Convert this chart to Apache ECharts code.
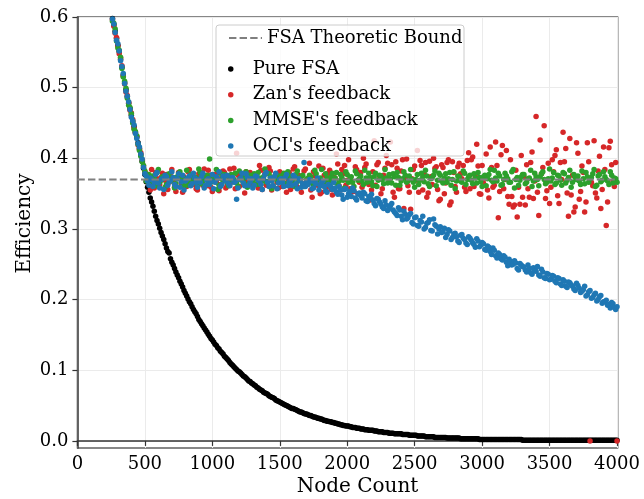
<!DOCTYPE html>
<html>
<head>
<meta charset="utf-8">
<script src="https://cdn.jsdelivr.net/npm/echarts@6/dist/echarts.min.js"></script>
<style>
html,body{margin:0;padding:0;background:#fff;}
#chart{width:644px;height:499px;}
</style>
</head>
<body>
<div id="chart"></div>
<script>
// Node counts, even tens (260 ... 4000)
const nodeCountsA = [
  260,280,300,320,340,360,380,400,420,440,460,480,500,
  520,540,560,580,600,620,640,660,680,700,
  720,740,760,780,800,820,840,860,880,900,
  920,940,960,980,1000,1020,1040,1060,1080,1100,
  1120,1140,1160,1180,1200,1220,1240,1260,1280,1300,
  1320,1340,1360,1380,1400,1420,1440,1460,1480,1500,
  1520,1540,1560,1580,1600,1620,1640,1660,1680,1700,
  1720,1740,1760,1780,1800,1820,1840,1860,1880,1900,
  1920,1940,1960,1980,2000,2020,2040,2060,2080,2100,
  2120,2140,2160,2180,2200,2220,2240,2260,2280,2300,
  2320,2340,2360,2380,2400,2420,2440,2460,2480,2500,
  2520,2540,2560,2580,2600,2620,2640,2660,2680,2700,
  2720,2740,2760,2780,2800,2820,2840,2860,2880,2900,
  2920,2940,2960,2980,3000,3020,3040,3060,3080,3100,
  3120,3140,3160,3180,3200,3220,3240,3260,3280,3300,
  3320,3340,3360,3380,3400,3420,3440,3460,3480,3500,
  3520,3540,3560,3580,3600,3620,3640,3660,3680,3700,
  3720,3740,3760,3780,3800,3820,3840,3860,3880,3900,
  3920,3940,3960,3980,4000
];
// Node counts, odd tens (270 ... 3990)
const nodeCountsB = [
  270,290,310,330,350,370,390,410,430,450,470,490,
  510,530,550,570,590,610,630,650,670,690,
  710,730,750,770,790,810,830,850,870,890,
  910,930,950,970,990,1010,1030,1050,1070,1090,
  1110,1130,1150,1170,1190,1210,1230,1250,1270,1290,
  1310,1330,1350,1370,1390,1410,1430,1450,1470,1490,
  1510,1530,1550,1570,1590,1610,1630,1650,1670,1690,
  1710,1730,1750,1770,1790,1810,1830,1850,1870,1890,
  1910,1930,1950,1970,1990,2010,2030,2050,2070,2090,
  2110,2130,2150,2170,2190,2210,2230,2250,2270,2290,
  2310,2330,2350,2370,2390,2410,2430,2450,2470,2490,
  2510,2530,2550,2570,2590,2610,2630,2650,2670,2690,
  2710,2730,2750,2770,2790,2810,2830,2850,2870,2890,
  2910,2930,2950,2970,2990,3010,3030,3050,3070,3090,
  3110,3130,3150,3170,3190,3210,3230,3250,3270,3290,
  3310,3330,3350,3370,3390,3410,3430,3450,3470,3490,
  3510,3530,3550,3570,3590,3610,3630,3650,3670,3690,
  3710,3730,3750,3770,3790,3810,3830,3850,3870,3890,
  3910,3930,3950,3970,3990
];

const pureFSA_A = [
  0.598,0.580,0.560,0.540,0.518,0.497,0.478,0.461,0.445,0.430,0.414,0.396,0.377,
  0.359,0.344,0.332,0.318,0.307,0.295,0.285,0.273,0.266,0.253,
  0.244,0.235,0.226,0.218,0.209,0.201,0.194,0.186,0.180,0.172,
  0.166,0.160,0.154,0.148,0.143,0.137,0.132,0.127,0.123,0.118,
  0.114,0.109,0.105,0.101,0.098,0.094,0.091,0.087,0.084,0.081,
  0.078,0.075,0.072,0.069,0.067,0.064,0.062,0.060,0.057,0.055,
  0.053,0.051,0.049,0.047,0.046,0.044,0.042,0.041,0.039,0.038,
  0.036,0.035,0.034,0.032,0.031,0.030,0.029,0.028,0.027,0.026,
  0.025,0.024,0.023,0.022,0.021,0.020,0.019,0.019,0.018,0.017,
  0.017,0.016,0.015,0.015,0.014,0.014,0.013,0.013,0.012,0.012,
  0.011,0.011,0.010,0.010,0.010,0.009,0.009,0.008,0.008,0.008,
  0.007,0.007,0.007,0.006,0.006,0.006,0.006,0.005,0.005,0.005,
  0.005,0.004,0.004,0.004,0.004,0.004,0.003,0.003,0.003,0.003,
  0.003,0.003,0.003,0.002,0.002,0.002,0.002,0.002,0.002,0.002,
  0.002,0.002,0.002,0.002,0.002,0.002,0.002,0.002,0.002,0.001,
  0.001,0.001,0.001,0.001,0.001,0.001,0.001,0.001,0.001,0.001,
  0.001,0.001,0.001,0.001,0.001,0.001,0.001,0.001,0.001,0.001,
  0.001,0.001,0.001,0.001,0.001,0.001,0.001,0.001,0.001,0.001,
  0.001,0.001,0.001,0.001,0.001
];
const pureFSA_B = [
  0.589,0.570,0.551,0.529,0.507,0.487,0.470,0.452,0.437,0.422,0.405,0.386,
  0.367,0.352,0.338,0.325,0.312,0.301,0.290,0.279,0.268,0.258,
  0.249,0.239,0.231,0.222,0.213,0.205,0.197,0.190,0.183,0.176,
  0.169,0.163,0.157,0.151,0.145,0.140,0.135,0.130,0.125,0.120,
  0.116,0.111,0.107,0.103,0.099,0.096,0.092,0.089,0.085,0.082,
  0.079,0.076,0.073,0.071,0.068,0.066,0.063,0.061,0.058,0.056,
  0.054,0.052,0.050,0.048,0.046,0.045,0.043,0.041,0.040,0.038,
  0.037,0.036,0.034,0.033,0.032,0.031,0.029,0.028,0.027,0.026,
  0.025,0.024,0.023,0.022,0.021,0.021,0.020,0.019,0.018,0.018,
  0.017,0.016,0.016,0.015,0.015,0.014,0.013,0.013,0.012,0.012,
  0.011,0.011,0.010,0.010,0.010,0.009,0.009,0.009,0.008,0.008,
  0.008,0.007,0.007,0.007,0.006,0.006,0.006,0.005,0.005,0.005,
  0.005,0.005,0.004,0.004,0.004,0.004,0.004,0.003,0.003,0.003,
  0.003,0.003,0.003,0.003,0.002,0.002,0.002,0.002,0.002,0.002,
  0.002,0.002,0.002,0.002,0.002,0.002,0.002,0.002,0.002,0.002,
  0.001,0.001,0.001,0.001,0.001,0.001,0.001,0.001,0.001,0.001,
  0.001,0.001,0.001,0.001,0.001,0.001,0.001,0.001,0.001,0.001,
  0.001,0.001,0.001,0.001,0.001,0.001,0.001,0.001,0.001,0.001,
  0.001,0.001,0.001,0.001,0.001
];

const zanFeedback_A = [
  0.596,0.577,0.559,0.542,0.516,0.494,0.479,0.464,0.443,0.431,0.413,0.398,0.381,
  0.374,0.355,0.369,0.380,0.362,0.373,0.350,0.377,0.366,0.384,
  0.359,0.371,0.376,0.352,0.368,0.381,0.364,0.372,0.357,0.378,
  0.367,0.385,0.361,0.374,0.353,0.369,0.379,0.363,0.382,0.358,
  0.372,0.366,0.386,0.407,0.360,0.375,0.351,0.370,0.380,0.364,
  0.377,0.358,0.383,0.369,0.362,0.387,0.355,0.374,0.366,0.381,
  0.360,0.378,0.371,0.356,0.385,0.363,0.376,0.352,0.382,0.368,
  0.393,0.345,0.375,0.362,0.350,0.386,0.367,0.379,0.356,0.373,
  0.406,0.361,0.384,0.390,0.369,0.357,0.353,0.388,0.350,0.380,
  0.400,0.392,0.363,0.355,0.425,0.391,0.375,0.357,0.386,0.393,
  0.423,0.352,0.395,0.357,0.382,0.329,0.399,0.352,0.371,0.389,
  0.411,0.397,0.355,0.394,0.351,0.374,0.400,0.388,0.340,0.391,
  0.350,0.394,0.334,0.395,0.360,0.388,0.378,0.390,0.353,0.408,
  0.398,0.360,0.420,0.350,0.390,0.372,0.355,0.416,0.359,0.423,
  0.316,0.405,0.357,0.411,0.335,0.346,0.334,0.317,0.335,0.345,
  0.334,0.357,0.394,0.343,0.459,0.319,0.378,0.446,0.354,0.336,
  0.398,0.404,0.347,0.394,0.437,0.414,0.318,0.348,0.324,0.422,
  0.342,0.389,0.324,0.422,0.000,0.361,0.351,0.382,0.329,0.416,
  0.305,0.415,0.391,0.360,0.000
];
const zanFeedback_B = [
  0.587,0.571,0.548,0.531,0.505,0.489,0.468,0.455,0.436,0.419,0.408,0.389,
  0.378,0.366,0.384,0.358,0.371,0.363,0.379,0.369,0.356,0.375,
  0.368,0.353,0.380,0.365,0.374,0.360,0.384,0.370,0.363,0.355,
  0.376,0.362,0.371,0.383,0.359,0.377,0.366,0.354,0.373,0.380,
  0.361,0.385,0.368,0.357,0.376,0.370,0.363,0.381,0.366,0.374,
  0.364,0.372,0.390,0.356,0.378,0.367,0.382,0.360,0.373,0.358,
  0.375,0.365,0.352,0.380,0.370,0.388,0.359,0.373,0.364,0.385,
  0.370,0.355,0.381,0.364,0.389,0.352,0.376,0.360,0.383,0.348,
  0.372,0.392,0.355,0.378,0.362,0.398,0.367,0.353,0.384,0.366,
  0.359,0.387,0.370,0.341,0.381,0.362,0.394,0.350,0.376,0.404,
  0.366,0.391,0.345,0.386,0.357,0.398,0.372,0.361,0.328,0.384,
  0.369,0.352,0.390,0.378,0.345,0.396,0.363,0.386,0.356,0.342,
  0.387,0.365,0.398,0.338,0.380,0.352,0.393,0.371,0.359,0.397,
  0.357,0.402,0.374,0.389,0.349,0.365,0.406,0.344,0.387,0.362,
  0.390,0.353,0.418,0.370,0.346,0.398,0.331,0.383,0.359,0.404,
  0.374,0.391,0.345,0.409,0.368,0.352,0.426,0.387,0.343,0.393,
  0.359,0.381,0.412,0.336,0.370,0.395,0.351,0.428,0.376,0.331,
  0.407,0.353,0.380,0.338,0.395,0.366,0.425,0.344,0.403,0.356,
  0.384,0.338,0.424,0.368,0.394
];

const mmseFeedback_A = [
  0.594,0.583,0.556,0.543,0.515,0.499,0.475,0.463,0.441,0.432,0.411,0.395,0.382,
  0.372,0.366,0.375,0.361,0.384,0.369,0.372,0.363,0.378,0.370,
  0.358,0.374,0.381,0.366,0.371,0.362,0.377,0.369,0.373,0.385,
  0.364,0.370,0.376,0.399,0.367,0.372,0.356,0.379,0.368,0.374,
  0.361,0.377,0.370,0.365,0.382,0.369,0.373,0.359,0.376,0.368,
  0.371,0.380,0.363,0.374,0.367,0.378,0.357,0.372,0.369,0.375,
  0.366,0.373,0.381,0.362,0.370,0.377,0.368,0.374,0.360,0.371,
  0.376,0.365,0.383,0.369,0.372,0.361,0.378,0.370,0.374,0.366,
  0.380,0.368,0.373,0.358,0.377,0.371,0.366,0.382,0.369,0.375,
  0.363,0.372,0.379,0.367,0.374,0.360,0.376,0.370,0.384,0.365,
  0.371,0.378,0.362,0.373,0.368,0.381,0.366,0.375,0.370,0.359,
  0.377,0.369,0.374,0.383,0.364,0.371,0.376,0.361,0.379,0.368,
  0.372,0.366,0.380,0.370,0.357,0.375,0.368,0.382,0.363,0.374,
  0.369,0.378,0.365,0.373,0.360,0.376,0.371,0.384,0.367,0.372,
  0.379,0.362,0.370,0.375,0.366,0.381,0.358,0.373,0.369,0.377,
  0.364,0.371,0.383,0.368,0.374,0.361,0.378,0.370,0.366,0.385,
  0.372,0.363,0.376,0.369,0.380,0.365,0.373,0.359,0.377,0.370,
  0.368,0.382,0.364,0.374,0.371,0.378,0.360,0.375,0.367,0.381,
  0.370,0.363,0.376,0.372,0.366
];
const mmseFeedback_B = [
  0.591,0.566,0.553,0.527,0.509,0.485,0.472,0.450,0.438,0.420,0.403,0.390,
  0.368,0.377,0.363,0.371,0.380,0.366,0.374,0.359,0.376,0.368,
  0.373,0.364,0.378,0.370,0.361,0.383,0.367,0.375,0.369,0.362,
  0.380,0.368,0.373,0.365,0.376,0.370,0.384,0.362,0.371,0.377,
  0.366,0.374,0.369,0.379,0.360,0.372,0.367,0.381,0.364,0.375,
  0.378,0.363,0.372,0.368,0.385,0.366,0.374,0.361,0.377,0.369,
  0.371,0.379,0.364,0.375,0.368,0.360,0.382,0.369,0.376,0.363,
  0.367,0.374,0.361,0.378,0.370,0.384,0.365,0.372,0.368,0.379,
  0.372,0.363,0.377,0.369,0.381,0.366,0.374,0.360,0.378,0.371,
  0.368,0.383,0.366,0.373,0.361,0.379,0.369,0.375,0.364,0.372,
  0.377,0.365,0.374,0.380,0.362,0.371,0.376,0.368,0.384,0.366,
  0.370,0.363,0.379,0.367,0.375,0.360,0.373,0.382,0.369,0.376,
  0.365,0.378,0.371,0.362,0.381,0.368,0.374,0.366,0.379,0.370,
  0.376,0.364,0.372,0.380,0.367,0.374,0.361,0.377,0.369,0.383,
  0.368,0.375,0.363,0.379,0.371,0.366,0.384,0.370,0.362,0.374,
  0.377,0.366,0.372,0.360,0.379,0.370,0.374,0.381,0.364,0.371,
  0.368,0.380,0.365,0.375,0.362,0.378,0.369,0.383,0.366,0.373,
  0.375,0.363,0.371,0.380,0.366,0.373,0.384,0.362,0.377,0.369,
  0.374,0.368,0.381,0.365,0.371
];

const ociFeedback_A = [
  0.597,0.578,0.562,0.538,0.520,0.495,0.480,0.458,0.447,0.428,0.416,0.399,0.378,
  0.368,0.372,0.360,0.377,0.365,0.370,0.356,0.374,0.367,0.381,
  0.363,0.371,0.359,0.376,0.368,0.372,0.361,0.379,0.366,0.370,
  0.374,0.358,0.369,0.363,0.377,0.366,0.371,0.360,0.375,0.368,
  0.364,0.372,0.366,0.342,0.370,0.379,0.361,0.373,0.367,0.358,
  0.375,0.369,0.363,0.371,0.380,0.360,0.368,0.374,0.357,0.370,
  0.366,0.373,0.361,0.369,0.376,0.364,0.371,0.359,0.394,0.367,
  0.370,0.357,0.366,0.372,0.361,0.368,0.354,0.363,0.359,0.366,
  0.352,0.360,0.348,0.356,0.345,0.353,0.358,0.344,0.350,0.347,
  0.352,0.340,0.346,0.349,0.336,0.343,0.338,0.331,0.340,0.326,
  0.333,0.327,0.322,0.330,0.318,0.325,0.314,0.320,0.309,0.316,
  0.305,0.312,0.318,0.302,0.309,0.298,0.314,0.304,0.300,0.295,
  0.301,0.292,0.297,0.288,0.294,0.283,0.291,0.287,0.280,0.289,
  0.284,0.278,0.286,0.275,0.281,0.271,0.276,0.268,0.273,0.262,
  0.266,0.258,0.262,0.253,0.257,0.249,0.255,0.244,0.251,0.247,
  0.242,0.249,0.238,0.245,0.240,0.235,0.243,0.231,0.237,0.228,
  0.234,0.226,0.231,0.222,0.228,0.219,0.225,0.221,0.215,0.223,
  0.216,0.212,0.219,0.207,0.213,0.203,0.209,0.200,0.206,0.197,
  0.199,0.193,0.196,0.189,0.190
];
const ociFeedback_B = [
  0.590,0.567,0.552,0.530,0.506,0.488,0.469,0.453,0.435,0.421,0.406,0.387,
  0.375,0.362,0.370,0.366,0.380,0.358,0.371,0.376,0.362,0.369,
  0.373,0.360,0.378,0.367,0.355,0.370,0.375,0.364,0.372,0.359,
  0.366,0.379,0.362,0.371,0.368,0.357,0.374,0.381,0.363,0.370,
  0.376,0.361,0.373,0.367,0.358,0.372,0.365,0.378,0.362,0.371,
  0.362,0.374,0.368,0.356,0.377,0.366,0.372,0.361,0.379,0.365,
  0.371,0.360,0.377,0.367,0.362,0.374,0.357,0.369,0.364,0.360,
  0.363,0.368,0.358,0.364,0.355,0.366,0.360,0.352,0.362,0.356,
  0.358,0.349,0.355,0.342,0.357,0.350,0.346,0.354,0.341,0.351,
  0.344,0.350,0.339,0.345,0.341,0.333,0.342,0.335,0.329,0.334,
  0.329,0.336,0.324,0.319,0.327,0.313,0.321,0.316,0.322,0.307,
  0.317,0.304,0.310,0.300,0.308,0.313,0.297,0.306,0.293,0.303,
  0.296,0.288,0.299,0.285,0.293,0.289,0.281,0.292,0.285,0.278,
  0.287,0.280,0.274,0.283,0.277,0.279,0.270,0.274,0.264,0.270,
  0.259,0.264,0.256,0.260,0.248,0.254,0.250,0.252,0.242,0.249,
  0.246,0.239,0.244,0.236,0.241,0.247,0.233,0.239,0.230,0.236,
  0.229,0.233,0.224,0.230,0.220,0.226,0.217,0.224,0.219,0.213,
  0.220,0.210,0.214,0.205,0.211,0.202,0.207,0.198,0.204,0.195,
  0.197,0.192,0.188,0.194,0.186
];

const boundX = [0, 4005];
const boundValue = 0.37;

const xTicks = [0,500,1000,1500,2000,2500,3000,3500,4000];
const yTicks = [0,0.1,0.2,0.3,0.4,0.5,0.6];

const seriesNames = ['FSA Theoretic Bound', 'Pure FSA', "Zan's feedback", "MMSE's feedback", "OCI's feedback"];

const FONT = 'DejaVu Serif';
const pair = (a, b) => nodeCountsA.map((x, i) => [x, a[i]]).concat(nodeCountsB.map((x, i) => [x, b[i]]))
  .sort((p, q) => p[0] - q[0]);

const chart = echarts.init(document.getElementById('chart'), null, {renderer: 'canvas'});

const scatterBase = {type: 'scatter', symbol: 'circle', symbolSize: 5.5, silent: true, z: 2};

chart.setOption({
  animation: false,
  backgroundColor: '#fff',
  grid: {left: 77.4, right: 26.3, top: 17, bottom: 51, show: true, borderColor: '#111', borderWidth: 1.2,
         backgroundColor: 'transparent', outerBoundsMode: 'none', containLabel: false},
  xAxis: {
    type: 'value', min: 0, max: 4005,
    name: 'Node Count', nameLocation: 'middle', nameGap: 29, nameMoveOverlap: false,
    nameTextStyle: {fontFamily: FONT, fontSize: 20, color: '#000', padding: [0, 0, 0, 20]},
    axisLine: {show: true, lineStyle: {color: '#333', width: 1.5}},
    axisTick: {show: true, length: 5, lineStyle: {color: '#333', width: 1.2}, customValues: xTicks},
    axisLabel: {fontFamily: FONT, fontSize: 18, color: '#000', margin: 7, customValues: xTicks, formatter: v => String(v)},
    splitLine: {show: true, lineStyle: {color: '#ebebeb', width: 1}}
  },
  yAxis: {
    type: 'value', min: -0.01, max: 0.6,
    name: 'Efficiency', nameLocation: 'middle', nameGap: 43, nameMoveOverlap: false,
    nameTextStyle: {fontFamily: FONT, fontSize: 20, color: '#000', padding: [0, 0, 0, 18]},
    axisLine: {show: true, lineStyle: {color: '#333', width: 1.5}},
    axisTick: {show: true, length: 5, lineStyle: {color: '#333', width: 1.2}, customValues: yTicks},
    axisLabel: {fontFamily: FONT, fontSize: 18, color: '#000', margin: 9, customValues: yTicks, formatter: v => v.toFixed(1)},
    splitLine: {show: true, lineStyle: {color: '#ebebeb', width: 1}}
  },
  graphic: [{
    type: 'rect', z: 20, silent: true,
    shape: {x: 216, y: 25, width: 248, height: 131, r: 3},
    style: {fill: 'rgba(255,255,255,0.8)', stroke: '#cccccc', lineWidth: 1}
  }],
  legend: [{
    data: [seriesNames[0]],
    left: 229, top: 28, padding: 0, orient: 'vertical',
    itemWidth: 33, itemHeight: 2, itemGap: 0, z: 30, selectedMode: false,
    icon: 'path://M0,0h7.4v2h-7.4z M10.6,0h7.4v2h-7.4z M21.2,0h7.4v2h-7.4z M31.8,0h1.2v2h-1.2z',
    textStyle: {fontFamily: FONT, fontSize: 18, color: '#000', lineHeight: 20}
  }, {
    data: seriesNames.slice(1),
    left: 228, top: 59, padding: 0, orient: 'vertical',
    itemWidth: 34, itemHeight: 5.5, itemGap: 5.7, z: 30, selectedMode: false,
    icon: 'circle',
    textStyle: {fontFamily: FONT, fontSize: 18, color: '#000', lineHeight: 20}
  }],
  series: [
    {
      name: seriesNames[0], type: 'line', silent: true, z: 5,
      data: boundX.map(x => [x, boundValue]), symbol: 'none',
      itemStyle: {color: '#7f7f7f'},
      lineStyle: {color: '#7f7f7f', width: 2, type: [7.4, 3.2]}
    },
    Object.assign({}, scatterBase, {name: seriesNames[1], data: pair(pureFSA_A, pureFSA_B), itemStyle: {color: '#000000', opacity: 1}}),
    Object.assign({}, scatterBase, {name: seriesNames[2], data: pair(zanFeedback_A, zanFeedback_B), itemStyle: {color: '#d62728', opacity: 1}}),
    Object.assign({}, scatterBase, {name: seriesNames[3], data: pair(mmseFeedback_A, mmseFeedback_B), itemStyle: {color: '#2ca02c', opacity: 1}}),
    Object.assign({}, scatterBase, {name: seriesNames[4], data: pair(ociFeedback_A, ociFeedback_B), itemStyle: {color: '#1f77b4', opacity: 1}})
  ]
});
</script>
</body>
</html>
